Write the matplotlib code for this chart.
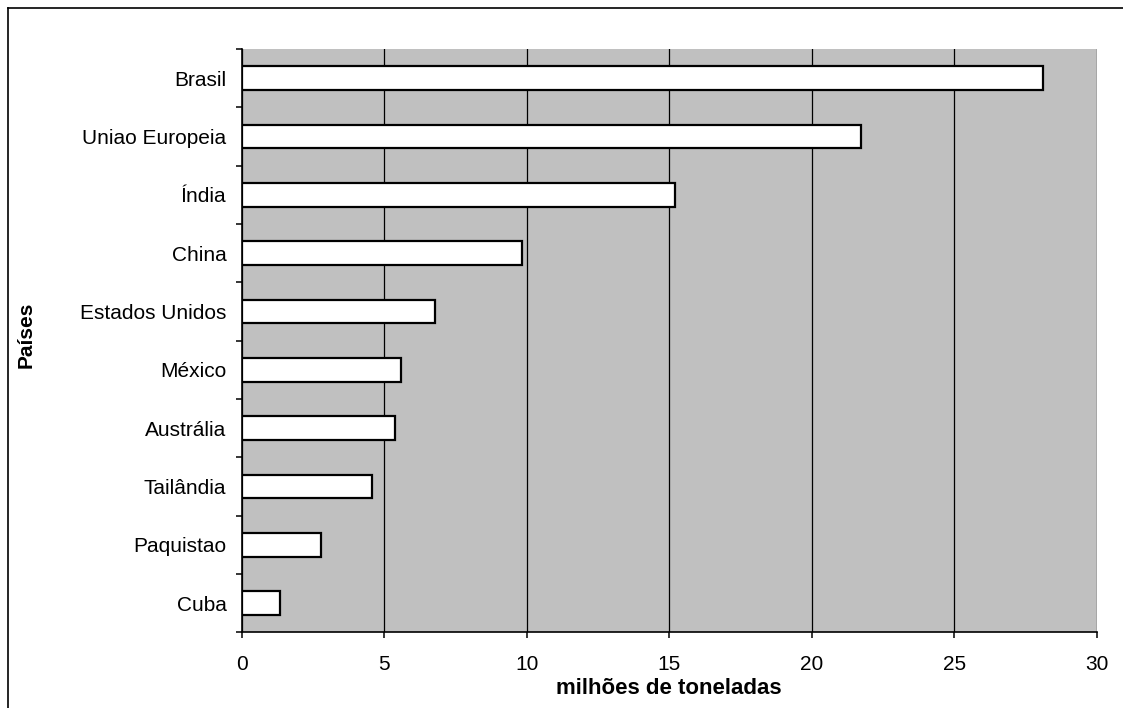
import numpy as np
import matplotlib
matplotlib.use("Agg")
import matplotlib.pyplot as plt
from matplotlib.lines import Line2D

plt.rcParams['font.family'] = ['Liberation Sans', 'DejaVu Sans']

paises = ["Cuba", "Paquistao", "Tailândia", "Austrália", "México",
          "Estados Unidos", "China", "Índia", "Uniao Europeia", "Brasil"]
producao = [1.33, 2.79, 4.56, 5.39, 5.60, 6.79, 9.82, 15.21, 21.73, 28.12]  # milhões de toneladas
x_ticks = [0, 5, 10, 15, 20, 25, 30]

fig = plt.figure(figsize=(11.23, 7.08), dpi=100)
ax = fig.add_axes([0.2152, 0.1069, 0.9768 - 0.2152, 0.9308 - 0.1069])
ax.set_facecolor('#c0c0c0')

pos = np.arange(len(paises))
ax.barh(pos, producao, height=0.41, color='white', edgecolor='black',
        linewidth=1.6, zorder=3)

ax.set_xlim(0, 30)
ax.set_ylim(-0.5, len(paises) - 0.5)

# x axis
ax.set_xticks(x_ticks)
ax.set_xticklabels([str(t) for t in x_ticks], fontsize=15)
ax.tick_params(axis='x', direction='out', length=4, width=1.1, pad=12)
ax.grid(axis='x', color='black', linewidth=0.9, zorder=1)
ax.set_axisbelow(True)

# y axis: ticks between categories, labels at the centres
ax.set_yticks(np.arange(len(paises) + 1) - 0.5)
ax.set_yticklabels([])
ax.tick_params(axis='y', which='major', direction='out', length=4.5, width=1.1)
ax.set_yticks(pos, minor=True)
ax.set_yticklabels(paises, minor=True, fontsize=15)
ax.tick_params(axis='y', which='minor', length=0, pad=11)

for s in ['top', 'right']:
    ax.spines[s].set_visible(False)
for s in ['left', 'bottom']:
    ax.spines[s].set_linewidth(1.2)

fig.text(0.596, 1 - 689 / 708, "milhões de toneladas", ha='center', va='center',
         fontsize=16, fontweight='bold')
fig.text(26 / 1123, 1 - 335 / 708, "Países", ha='center', va='center',
         rotation=90, fontsize=15, fontweight='bold')

# outer frame (top and left edges)
fig.add_artist(Line2D([7.5 / 1123, 1.0], [1 - 7.5 / 708, 1 - 7.5 / 708],
                      color='black', linewidth=1.2, transform=fig.transFigure))
fig.add_artist(Line2D([7.5 / 1123, 7.5 / 1123], [0.0, 1 - 7.5 / 708],
                      color='black', linewidth=1.2, transform=fig.transFigure))

fig.savefig("out.png", dpi=100)
